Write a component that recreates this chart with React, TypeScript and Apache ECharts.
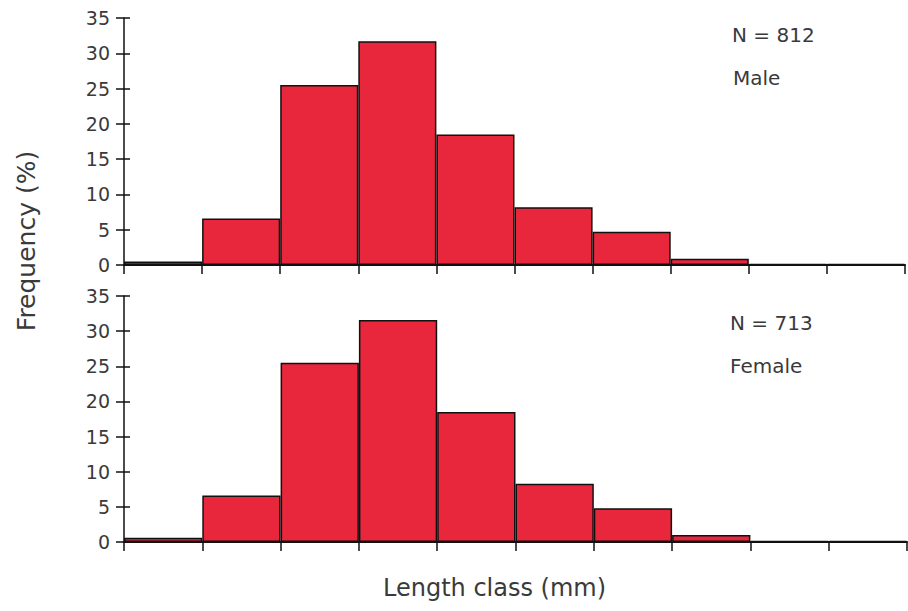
import React, { useEffect, useRef } from "react";
import * as echarts from "echarts";

const lengthClasses = ["1", "2", "3", "4", "5", "6", "7", "8", "9", "10"];
const maleFreq = [0.5, 6.6, 25.5, 31.7, 18.5, 8.2, 4.7, 0.9, 0.15, 0.15];
const femaleFreq = [0.6, 6.6, 25.5, 31.6, 18.5, 8.3, 4.8, 1.0, 0.15, 0.15];
const yTicks = { min: 0, max: 35, interval: 5 };
const maleLabel = ["N = 812", "Male"];
const femaleLabel = ["N = 713", "Female"];
const yName = "Frequency (%)";
const xName = "Length class (mm)";

const FONT = "'DejaVu Sans', Verdana, sans-serif";
const BAR = "#E8263C";
const TXT = "#3a3a3a";

export default function App() {
  const ref = useRef<HTMLDivElement>(null);
  useEffect(() => {
    document.body.style.margin = "0";
    const chart = echarts.init(ref.current!, null, { renderer: "svg" });
    const grids = [
      { left: 124, top: 18, width: 781, height: 247 },
      { left: 124, top: 296, width: 783, height: 246 },
    ];
    const xAxis: any[] = grids.map((_, i) => ({
      type: "category",
      gridIndex: i,
      data: lengthClasses,
      boundaryGap: true,
      axisLine: { lineStyle: { color: "#111", width: 2 } },
      axisTick: { show: true, alignWithLabel: false, length: 9, lineStyle: { color: "#111", width: 1.5 } },
      axisLabel: { show: false },
      splitLine: { show: false },
    }));
    const yAxis: any[] = [];
    grids.forEach((_, i) => {
      yAxis.push({
        type: "value",
        gridIndex: i,
        ...yTicks,
        axisLine: { show: true, lineStyle: { color: "#111", width: 1.5 } },
        axisTick: { show: true, length: 8, lineStyle: { color: "#111", width: 1.5 } },
        axisLabel: { color: TXT, fontSize: 19, fontFamily: FONT, margin: 14 },
        splitLine: { show: false },
      });
      yAxis.push({
        type: "value",
        gridIndex: i,
        position: "left",
        ...yTicks,
        axisLine: { show: false },
        axisTick: { show: true, inside: true, length: 6, lineStyle: { color: "#111", width: 1.5 } },
        axisLabel: { show: false },
        splitLine: { show: false },
      });
    });
    const mkSeries = (data: number[], i: number) => ({
      type: "bar",
      xAxisIndex: i,
      yAxisIndex: i * 2,
      data,
      barCategoryGap: "0%",
      itemStyle: { color: BAR, borderColor: "#111", borderWidth: 1.5 },
    });
    const txt = (x: number, y: number, s: string, size = 20, extra: any = {}) => ({
      type: "text",
      x,
      y,
      style: { text: s, fontSize: size, fontFamily: FONT, fill: TXT, ...extra },
    });
    chart.setOption({
      animation: false,
      grid: grids,
      xAxis,
      yAxis,
      series: [mkSeries(maleFreq, 0), mkSeries(femaleFreq, 1)],
      graphic: [
        txt(732, 25, maleLabel[0]),
        txt(733, 68, maleLabel[1]),
        txt(730, 313, femaleLabel[0]),
        txt(730, 356, femaleLabel[1]),
        txt(383, 576, xName, 24),
        {
          type: "text",
          x: 26,
          y: 241,
          rotation: Math.PI / 2,
          style: {
            text: yName,
            fontSize: 25,
            fontFamily: FONT,
            fill: TXT,
            align: "center",
            verticalAlign: "middle",
          },
        },
      ],
    });
    return () => chart.dispose();
  }, []);
  return <div ref={ref} style={{ width: 908, height: 611 }} />;
}
